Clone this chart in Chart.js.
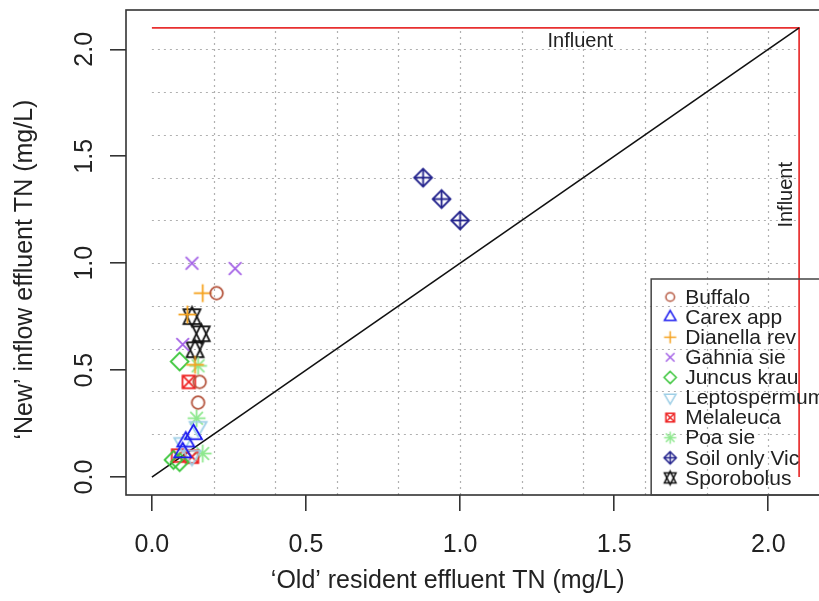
<!DOCTYPE html>
<html>
<head>
<meta charset="utf-8">
<title>Old vs new effluent TN</title>
<script src="https://cdn.jsdelivr.net/npm/chart.js@4.4.1/dist/chart.umd.min.js"></script>
<style>
  html, body { margin: 0; padding: 0; background: #fff; overflow: hidden; }
  #chart { display: block; }
</style>
</head>
<body>
<canvas id="chart" width="830" height="601" style="width:830px;height:601px"></canvas>
<script>
// species in legend order
const species = ['Buffalo', 'Carex app', 'Dianella rev', 'Gahnia sie', 'Juncus krau',
                 'Leptospermum', 'Melaleuca', 'Poa sie', 'Soil only Vic', 'Sporobolus'];

// 'old' resident effluent TN (x) and 'new' inflow effluent TN (y), mg/L, per species
const oldTN = [
    [0.21, 0.155, 0.15],
    [0.135, 0.11, 0.10],
    [0.165, 0.115, 0.14],
    [0.13, 0.27, 0.10],
    [0.09, 0.07, 0.09],
    [0.15, 0.10, 0.13],
    [0.12, 0.085, 0.13],
    [0.15, 0.145, 0.165],
    [0.88, 0.94, 1.00],
    [0.13, 0.16, 0.14]
];
const newTN = [
    [0.86, 0.445, 0.348],
    [0.20, 0.165, 0.115],
    [0.86, 0.76, 0.525],
    [1.00, 0.975, 0.62],
    [0.54, 0.08, 0.07],
    [0.235, 0.16, 0.10],
    [0.445, 0.10, 0.095],
    [0.52, 0.275, 0.11],
    [1.40, 1.30, 1.20],
    [0.75, 0.67, 0.595]
];

const influentTN = 2.1;
const xTicks = [0, 0.5, 1, 1.5, 2];
const yTicks = [0, 0.5, 1, 1.5, 2];
const gridValues = [0.2, 0.4, 0.6, 0.8, 1.0, 1.2, 1.4, 1.6, 1.8, 2.0];

// R style symbols: pch 1..9 and 11
const symbols = ['circle', 'triUp', 'plus', 'cross', 'diamond', 'triDown', 'boxCross', 'asterisk', 'diamondPlus', 'star'];
const colors = ['#b5563f', '#1c1cf0', '#f5a21e', '#a462e6', '#3cc63c', '#9fcfe6', '#ee2424', '#8fe88f', '#22228c', '#111111'];

const FONT = '"Liberation Sans", Arial, Helvetica, sans-serif';
const TEXT = '#222';

function makeMarker(kind, color, r, lw) {
    const size = Math.ceil(r * 3.6 + lw * 2);
    const c = document.createElement('canvas');
    c.width = c.height = size;
    const g = c.getContext('2d');
    g.translate(size / 2, size / 2);
    g.strokeStyle = color;
    g.lineWidth = lw;
    const s2 = Math.SQRT2 * r;
    const tr = 1.5551 * r, tx = 1.3468 * r, ty = 0.7776 * r;
    const poly = pts => {
        g.beginPath();
        pts.forEach(([a, b], i) => i ? g.lineTo(a, b) : g.moveTo(a, b));
        g.closePath();
        g.stroke();
    };
    const seg = (a, b, c2, d) => { g.beginPath(); g.moveTo(a, b); g.lineTo(c2, d); g.stroke(); };

    switch (kind) {
        case 'circle':
            g.beginPath(); g.arc(0, 0, r, 0, Math.PI * 2); g.stroke();
            break;
        case 'triUp':
            poly([[0, -tr], [tx, ty], [-tx, ty]]);
            break;
        case 'triDown':
            poly([[0, tr], [tx, -ty], [-tx, -ty]]);
            break;
        case 'plus':
            seg(-s2, 0, s2, 0); seg(0, -s2, 0, s2);
            break;
        case 'cross':
            seg(-r, -r, r, r); seg(-r, r, r, -r);
            break;
        case 'diamond':
            poly([[0, -s2], [s2, 0], [0, s2], [-s2, 0]]);
            break;
        case 'boxCross':
            g.strokeRect(-r, -r, 2 * r, 2 * r);
            seg(-r, -r, r, r); seg(-r, r, r, -r);
            break;
        case 'asterisk':
            seg(-r, -r, r, r); seg(-r, r, r, -r);
            seg(-s2, 0, s2, 0); seg(0, -s2, 0, s2);
            break;
        case 'diamondPlus':
            poly([[0, -s2], [s2, 0], [0, s2], [-s2, 0]]);
            seg(-s2, 0, s2, 0); seg(0, -s2, 0, s2);
            break;
        case 'star': {
            const yc = 0.5 * (ty + tr);
            poly([[0, -tr], [tx, yc], [-tx, yc]]);
            poly([[0, tr], [tx, -yc], [-tx, -yc]]);
            break;
        }
    }
    return c;
}

const pointDatasets = species.map((name, i) => ({
    label: name,
    data: oldTN[i].map((v, j) => ({ x: v, y: newTN[i][j] })),
    pointStyle: makeMarker(symbols[i], colors[i], 6.3, 1.8),
    legendMarker: makeMarker(symbols[i], colors[i], 4.3, 1.5),
    showLine: false,
    order: 0
}));

const lineDatasets = [
    {
        label: '1:1',
        data: [{ x: 0, y: 0 }, { x: influentTN, y: influentTN }],
        borderColor: '#111',
        borderWidth: 1.6,
        pointRadius: 0,
        showLine: true,
        order: 5
    },
    {
        label: 'Influent',
        data: [{ x: 0, y: influentTN }, { x: influentTN, y: influentTN }, { x: influentTN, y: 0 }],
        borderColor: '#e83030',
        borderWidth: 1.7,
        pointRadius: 0,
        showLine: true,
        order: 5
    }
];

// dotted grid, box, legend and labels in the R look
const rPlot = {
    id: 'rPlot',
    beforeDatasetsDraw(chart) {
        const { ctx, chartArea, scales: { x, y } } = chart;
        ctx.save();
        ctx.strokeStyle = '#b0b0b0';
        ctx.lineWidth = 1.2;
        ctx.setLineDash([2, 4]);
        const top = y.getPixelForValue(influentTN);
        const left = x.getPixelForValue(0);
        const right = x.getPixelForValue(influentTN);
        gridValues.forEach(v => {
            const px = Math.round(x.getPixelForValue(v)) + 0.5;
            ctx.beginPath(); ctx.moveTo(px, chartArea.bottom); ctx.lineTo(px, top); ctx.stroke();
            const py = Math.round(y.getPixelForValue(v)) + 0.5;
            ctx.beginPath(); ctx.moveTo(left, py); ctx.lineTo(right, py); ctx.stroke();
        });
        ctx.restore();
    },
    afterDraw(chart) {
        const { ctx, chartArea: area, scales: { x, y } } = chart;
        ctx.save();

        // plot box
        ctx.strokeStyle = '#333';
        ctx.lineWidth = 1.6;
        ctx.strokeRect(area.left, area.top, area.right - area.left, area.bottom - area.top);

        // legend, bottom right corner (runs off the right edge like the original)
        ctx.font = '21px ' + FONT;
        const textW = Math.max(...species.map(s => ctx.measureText(s).width));
        const rowH = 20.1;
        const w = 34 + textW + 9;
        const h = rowH * species.length + 15;
        const lx = area.left + x.getPixelForValue(1.62) - area.left;
        const ly = area.bottom - h;
        ctx.strokeStyle = '#444';
        ctx.lineWidth = 1.5;
        ctx.strokeRect(lx, ly, w, h);
        ctx.fillStyle = TEXT;
        ctx.textBaseline = 'middle';
        ctx.textAlign = 'left';
        chart.data.datasets.filter(d => d.legendMarker).forEach((d, i) => {
            const cy = ly + 18 + i * rowH;
            const m = d.legendMarker;
            ctx.drawImage(m, lx + 19 - m.width / 2, cy - m.height / 2);
            ctx.fillText(d.label, lx + 34, cy + 1);
        });

        // "Influent" labels
        ctx.font = '20px ' + FONT;
        ctx.textAlign = 'center';
        ctx.fillText('Influent', x.getPixelForValue(1.39), y.getPixelForValue(2.037));
        ctx.save();
        ctx.translate(x.getPixelForValue(2.06), y.getPixelForValue(1.32));
        ctx.rotate(-Math.PI / 2);
        ctx.fillText('Influent', 0, 0);
        ctx.restore();

        // axis titles
        ctx.font = '25px ' + FONT;
        ctx.fillText('\u2018Old\u2019 resident effluent TN (mg/L)', x.getPixelForValue(0.96), chart.height - 20);
        ctx.save();
        ctx.translate(25, y.getPixelForValue(0.97));
        ctx.rotate(-Math.PI / 2);
        ctx.fillText('\u2018New\u2019 inflow effluent TN (mg/L)', 0, 0);
        ctx.restore();

        ctx.restore();
    }
};

function axisConfig(values, isY) {
    return {
        type: 'linear',
        min: -0.084,
        max: 2.184,
        afterBuildTicks: s => { s.ticks = values.map(v => ({ value: v })); },
        afterFit: s => {
            if (isY) { s.width = 126; s.paddingTop = 0; s.paddingBottom = 0; }
            else { s.height = 106; s.paddingLeft = 0; s.paddingRight = 0; }
        },
        grid: { drawOnChartArea: false, drawTicks: true, tickLength: 16, color: '#333', lineWidth: 1.6 },
        border: { display: false },
        ticks: {
            autoSkip: false,
            color: TEXT,
            font: { family: FONT, size: 25 },
            padding: isY ? 8 : 19,
            minRotation: isY ? 90 : 0,
            maxRotation: isY ? 90 : 0,
            crossAlign: isY ? 'center' : 'near',
            callback: v => Number(v).toFixed(1)
        }
    };
}

new Chart(document.getElementById('chart'), {
    type: 'scatter',
    data: { datasets: pointDatasets.concat(lineDatasets) },
    options: {
        responsive: false,
        animation: false,
        devicePixelRatio: 1,
        events: [],
        layout: { padding: { top: 10, right: 5, left: 0, bottom: 0 } },
        plugins: { legend: { display: false }, tooltip: { enabled: false } },
        scales: {
            x: axisConfig(xTicks, false),
            y: axisConfig(yTicks, true)
        }
    },
    plugins: [rPlot]
});
</script>
</body>
</html>
